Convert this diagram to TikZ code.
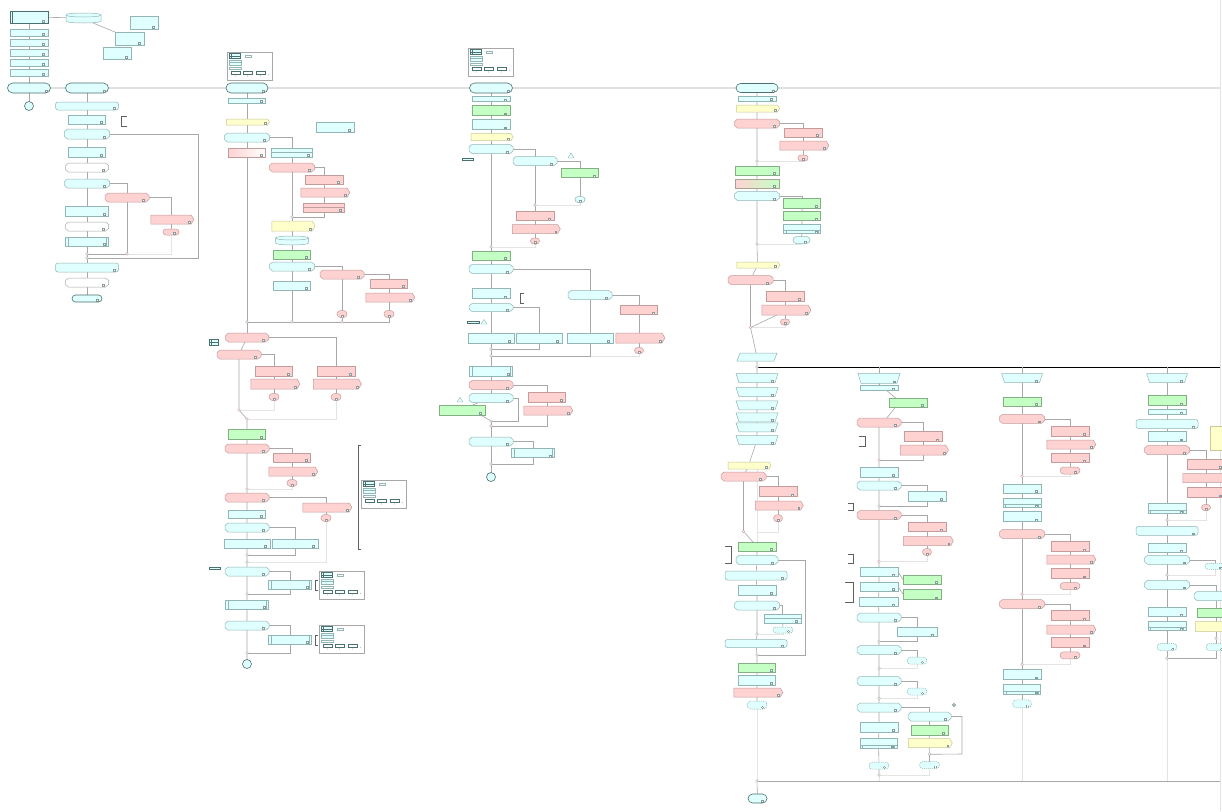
\documentclass[tikz,border=0pt]{standalone}
\usetikzlibrary{shapes.misc,shapes.symbols,calc}
\definecolor{cyF}{HTML}{E0FFFF}
\definecolor{cyD}{HTML}{93B5B5}
\definecolor{tD}{HTML}{4A7070}
\definecolor{pkF}{HTML}{FFD2D2}
\definecolor{pkD}{HTML}{C49C9C}
\definecolor{grF}{HTML}{C4FFC4}
\definecolor{grD}{HTML}{86AE86}
\definecolor{ywF}{HTML}{FFFFCC}
\definecolor{ywD}{HTML}{C8C898}
\definecolor{whD}{HTML}{A8A8A8}
\definecolor{lnC}{HTML}{A8A8A8}
\definecolor{ltC}{HTML}{E4E4E4}
\definecolor{portC}{HTML}{8A9A9A}
\definecolor{brkC}{HTML}{606060}
\pgfdeclarelayer{bg}
\pgfsetlayers{bg,main}
\newcommand\portsq{\draw[draw=portC,fill=white,line width=0.3pt,sharp corners] ([xshift=-5.5pt,yshift=0.8pt]path picture bounding box.south east) rectangle ++(1.8pt,1.8pt);}
\tikzset{
 bs/.style={inner sep=0pt, outer sep=0pt, line width=0.5pt},
 port/.style={path picture={\portsq}},
 box/.style={bs, rectangle, port},
 pent/.style={bs, signal, signal to=east, signal pointer angle=120, port},
 term/.style={bs, rounded rectangle, fill=cyF, draw=tD, line width=0.6pt, port},
 oval/.style={bs, rounded rectangle, port},
 wide/.style={bs, rectangle, rounded corners=2.5pt, port},
 sub/.style={bs, rectangle, path picture={\portsq
   \draw[draw=cyD,line width=0.4pt] ([xshift=2.5pt]path picture bounding box.north west) -- ([xshift=2.5pt]path picture bounding box.south west) ([xshift=-2.5pt]path picture bounding box.north east) -- ([xshift=-2.5pt]path picture bounding box.south east);}},
 sub2/.style={bs, rectangle, path picture={\portsq
   \draw[draw=cyD,line width=0.4pt] ([yshift=3.5pt]path picture bounding box.south west) -- ([yshift=3.5pt]path picture bounding box.south east) ([xshift=2.5pt]path picture bounding box.south west) -- ([xshift=2.5pt,yshift=3.5pt]path picture bounding box.south west) ([xshift=-2.5pt]path picture bounding box.south east) -- ([xshift=-2.5pt,yshift=3.5pt]path picture bounding box.south east);}},
 subL/.style={bs, rectangle, path picture={\portsq
   \draw[draw=tD,line width=0.4pt] ([xshift=2pt]path picture bounding box.north west) -- ([xshift=2pt]path picture bounding box.south west);}},
 midl/.style={bs, rectangle, path picture={\portsq
   \draw[draw=#1,line width=0.5pt] (path picture bounding box.west) -- (path picture bounding box.east);}},
 midl/.default=cyD,
 cy/.style={fill=cyF, draw=cyD},
 cyT/.style={fill=cyF, draw=tD, line width=0.6pt},
 cyd/.style={fill=cyF, draw=cyD, dash pattern=on 1.2pt off 0.8pt},
 pk/.style={fill=pkF, draw=pkD},
 gr/.style={fill=grF, draw=grD},
 yw/.style={fill=ywF, draw=ywD},
 wh/.style={fill=white, draw=whD},
 gpk/.style={left color=pkF, right color=white, draw=pkD},
 gpg/.style={left color=pkF, right color=grF, draw=pkD!50!grD},
 jn/.style={circle, inner sep=0pt, outer sep=0pt, minimum size=2.8pt, draw=lnC, fill=white, line width=0.4pt},
 jpk/.style={jn, draw=pkD},
 endc/.style={circle, inner sep=0pt, outer sep=0pt, minimum size=9pt, draw=tD, fill=cyF, line width=0.6pt},
 ln/.style={draw=lnC, line width=0.6pt},
 lt/.style={draw=ltC, line width=0.5pt},
 brk/.style={draw=brkC, line width=0.7pt},
}
\newcommand\nd[6]{\node[#1,minimum width=#5pt,minimum height=#6pt] (#2) at (#3,#4) {};}
\newcommand\jnc[3]{\node[jn] (#1) at (#2,#3) {};}
\newcommand\jpkc[3]{\node[jpk] (#1) at (#2,#3) {};}
\newcommand\hx[6]{%
 \node[bs, rectangle, minimum width=#5pt, minimum height=#6pt] (#2) at (#3,#4) {};
 \draw[#1, line width=0.5pt] ([xshift=3pt]#2.north west) -- ([xshift=-3pt]#2.north east) -- ([yshift=-2.5pt]#2.north east) -- ([yshift=2.5pt]#2.south east) -- ([xshift=-3pt]#2.south east) -- ([xshift=3pt]#2.south west) -- ([yshift=2.5pt]#2.south west) -- ([yshift=-2.5pt]#2.north west) -- cycle;
 \draw[draw=portC,fill=white,line width=0.3pt] ([xshift=-6.5pt,yshift=0.8pt]#2.south east) rectangle ++(1.8pt,1.8pt);}
\newcommand\trapz[5]{%
 \node[bs, rectangle, minimum width=#4pt, minimum height=#5pt] (#1) at (#2,#3) {};
 \draw[cy, line width=0.5pt] (#1.north west) -- (#1.north east) -- ([xshift=-3pt]#1.south east) -- ([xshift=3pt]#1.south west) -- cycle;
 \draw[draw=portC,fill=white,line width=0.3pt] ([xshift=-7pt,yshift=0.8pt]#1.south east) rectangle ++(1.8pt,1.8pt);}
\newcommand\cyln[5]{%
 \node[bs, rectangle, minimum width=#4pt, minimum height=#5pt] (#1) at (#2,#3) {};
 \draw[fill=cyF, draw=cyD, line width=0.5pt] ([yshift=-2pt]#1.north west) -- ([yshift=2pt]#1.south west) .. controls ([yshift=-0.67pt]#1.south west) and ([yshift=-0.67pt]#1.south east) .. ([yshift=2pt]#1.south east) -- ([yshift=-2pt]#1.north east) .. controls ([yshift=0.67pt]#1.north east) and ([yshift=0.67pt]#1.north west) .. cycle;
 \draw[draw=cyD, line width=0.5pt] ([yshift=-2pt]#1.north west) .. controls ([yshift=-4.67pt]#1.north west) and ([yshift=-4.67pt]#1.north east) .. ([yshift=-2pt]#1.north east);}
\newcommand\lgd[3]{%
 \node[bs, rectangle, draw=whD, fill=white, minimum width=45pt, minimum height=28pt, anchor=north west] (#1) at (#2,#3) {};
 \begin{scope}[shift={(#2,#3)}]
  \draw[draw=tD, fill=cyF, line width=0.5pt] (2,1.7) rectangle (13,6);
  \draw[draw=tD, line width=0.4pt] (4,1.7) -- (4,6) (2,3.8) -- (13,3.8);
  \draw[draw=cyD, line width=0.4pt] (18,3.3) rectangle (24,4.8);
  \draw[draw=cyD, fill=cyF, line width=0.4pt] (2,7.7) rectangle (14,10.3);
  \draw[draw=cyD, fill=cyF, line width=0.4pt] (2,10.3) rectangle (14,13);
  \draw[draw=cyD, fill=white, line width=0.4pt] (2,14.7) rectangle (14,17.2);
  \foreach \u in {3.7,16,28.7}{\draw[draw=tD, line width=0.4pt] (\u,19.3) rectangle ++(9,2.4); \fill[tD] (\u+4.5,24) circle (0.4);}
  \draw[draw=gray, line width=0.3pt] (41,22) -- (42,23);
 \end{scope}}
\begin{document}
\begin{tikzpicture}[x=1pt,y=-1pt]
\useasboundingbox (0,0) rectangle (1222,811);
\coordinate (rb1) at (1220.5,0);
\coordinate (rb2) at (1220.5,811);
% ---------------- section 1
\nd{subL,cyT}{a0}{29}{17}{38}{12}
\nd{box,cy}{a1}{29}{32.5}{38}{7}
\nd{box,cy}{a2}{29}{42.5}{38}{7}
\nd{box,cy}{a3}{29}{52.5}{38}{7}
\nd{box,cy}{a4}{29}{62.5}{38}{7}
\nd{box,cy}{a5}{29}{72.5}{38}{7}
\cyln{cyl}{83.5}{18}{35}{10}
\nd{box,cy}{b1}{144}{22.5}{28}{13}
\nd{box,cy}{b2}{129.5}{38.5}{29}{13}
\nd{box,cy}{b3}{117}{53}{28}{12}
\nd{term}{t1}{29}{88}{43}{10}
\node[endc] (c1) at (29,106) {};
\nd{term}{t2}{87}{88}{43}{10}
\coordinate (mE) at (1220,88);
\nd{wide,cy}{r1}{87}{106}{63}{8}
\nd{box,cy}{r2}{87}{119.5}{37}{9}
\draw[brk] (127,116) -- (121,116) -- (121,126) -- (127,126);
\hx{cy}{h1}{87}{134}{45}{10}
\nd{box,cy}{r3}{87}{152}{37}{10}
\hx{wh}{h2}{87}{167.5}{43}{9}
\hx{cy}{h3}{87}{183.5}{45}{9}
\hx{pk}{h4}{127}{197.5}{44}{9}
\nd{pent,pk}{p1}{171}{219.5}{43}{9}
\nd{oval,pk}{o1}{171}{232}{16}{6}
\nd{box,cy}{r4}{87}{211}{43}{10}
\hx{wh}{h5}{87}{226.5}{43}{9}
\nd{sub,cy}{s1}{87}{241.5}{43}{9}
\jnc{j1}{87}{254}
\jpkc{jp1}{127}{254}
\jnc{j2}{87}{258}
\coordinate (k1) at (198,258);
\nd{wide,cy}{r5}{87}{267.5}{63}{9}
\hx{wh}{h6}{87}{282.5}{43}{9}
\nd{term}{t6}{87}{298.5}{30}{7}
% ---------------- section 2
\lgd{L1}{227}{52}
\nd{term}{t3}{247}{88}{42}{10}
\nd{box,cy}{r6}{247}{100.5}{37}{5}
\nd{pent,yw}{y1}{247}{122}{43}{6}
\nd{box,cy}{r7}{335}{127}{38}{10}
\hx{cy}{h7}{247}{137.5}{45}{9}
\nd{box,gpk}{g1}{247}{152.5}{37}{9}
\nd{midl,cy}{m1}{292}{152.5}{41}{9}
\hx{pk}{h8}{292}{167.5}{45}{9}
\nd{box,pk}{pr1}{324}{179.5}{38}{9}
\nd{pent,pk}{pp1}{324}{192.5}{49}{9}
\nd{midl=pkD,pk}{pm1}{324}{207.5}{41}{9}
\jnc{j3}{292}{217}
\nd{pent,yw}{y2}{292}{226}{43}{10}
\cyln{cy2}{292}{240.5}{33}{9}
\nd{box,gr}{g2}{292}{254.5}{37}{9}
\hx{cy}{h9}{292}{266.5}{45}{9}
\nd{box,cy}{r8}{292}{285.5}{37}{9}
\hx{pk}{h10}{342}{274.5}{44}{9}
\nd{oval,pk}{o2}{342}{314}{10}{7}
\nd{box,pk}{pr2}{389}{283.5}{37}{9}
\nd{pent,pk}{pp2}{389}{297.5}{49}{9}
\nd{oval,pk}{o3}{389}{314}{10}{7}
\jnc{j4}{247}{322}
\jnc{j5}{292}{322}
\jpkc{j6}{342}{322}
% ---------------- section 3
\hx{pk}{h11}{247}{337.5}{43}{9}
\draw[draw=tD, fill=cyF, line width=0.4pt] (209,339) rectangle (218,345);
\draw[draw=tD, line width=0.4pt] (211,339) -- (211,345) (209,342) -- (218,342);
\hx{pk}{h12}{239}{354.5}{44}{9}
\nd{box,pk}{pr3}{274}{371}{37}{10}
\nd{pent,pk}{pp3}{274}{384}{49}{10}
\nd{oval,pk}{o4}{274}{397}{10}{7}
\nd{box,pk}{pr4}{336}{371}{38}{10}
\nd{pent,pk}{pp4}{336}{384}{48}{10}
\nd{oval,pk}{o5}{336}{397}{10}{7}
\jpkc{j7}{239}{410}
\jpkc{j8}{247}{419}
\nd{box,gr}{g3}{247}{434}{37}{10}
\hx{pk}{h13}{247}{448.5}{44}{9}
\nd{box,pk}{pr5}{292}{457.5}{37}{9}
\nd{pent,pk}{pp5}{292}{471.5}{49}{9}
\nd{oval,pk}{o6}{292}{483}{10}{7}
\jpkc{j9}{247}{489}
\hx{pk}{h14}{247}{497.5}{44}{9}
\nd{pent,pk}{pp6}{326}{507.5}{49}{9}
\nd{oval,pk}{o7}{326}{518}{10}{7}
\nd{box,cy}{r9}{247}{514}{37}{8}
\hx{cy}{h15}{247}{527.5}{44}{9}
\nd{box,cy}{r10}{247}{543.5}{46}{9}
\nd{box,cy}{r11}{295}{543.5}{46}{9}
\jnc{j10}{247}{555}
\jnc{j11}{247}{562}
\draw[brk] (360.5,445) -- (358,445) -- (358,549) -- (360.5,549);
\lgd{L2}{361}{480}
\draw[draw=tD, fill=cyF, line width=0.4pt] (209,567) rectangle (220,569.5);
\hx{cy}{h16}{247}{571.5}{44}{9}
\nd{sub,cy}{s2}{290}{584.5}{43}{9}
\draw[brk] (318,580) -- (315.5,580) -- (315.5,590) -- (318,590);
\lgd{L3}{319}{571}
\jnc{j12}{247}{594}
\nd{sub,cy}{s3}{247}{604.5}{43}{9}
\hx{cy}{h17}{247}{625.5}{44}{9}
\nd{sub,cy}{s4}{290}{639.5}{43}{9}
\draw[brk] (318,635) -- (315.5,635) -- (315.5,645) -- (318,645);
\lgd{L4}{319}{625}
\jnc{j13}{247}{653}
\node[endc] (c2) at (247,664) {};
% ---------------- section 4
\lgd{L5}{468}{48}
\nd{term}{t4}{491}{88}{43}{10}
\nd{box,cy}{r12}{491}{99}{38}{5}
\nd{box,gr}{g4}{491}{110.3}{38}{10}
\nd{box,cy}{r13}{491}{124.3}{38}{10}
\nd{pent,yw}{y3}{491}{137}{42}{7}
\hx{cy}{h18}{491}{149}{44}{9}
\draw[draw=tD, fill=cyF, line width=0.4pt] (462,158) rectangle (473,160.5);
\hx{cy}{h19}{535}{161}{44}{9}
\draw[draw=cyD, fill=cyF, line width=0.4pt] (571,153) -- (574,158) -- (568,158) -- cycle;
\nd{box,gr}{g5}{580}{173}{37}{9}
\nd{oval,cy}{o8}{580}{199.5}{10}{6}
\jnc{j14}{535}{205}
\nd{box,pk}{pr6}{535}{216}{38}{9}
\nd{pent,pk}{pp7}{535}{229}{48}{9}
\nd{oval,pk}{o9}{535}{241}{9}{6}
\jnc{j15}{491}{247}
\nd{box,gr}{g6}{491}{255.5}{38}{9}
\hx{cy}{h20}{491}{269}{44}{9}
\nd{box,cy}{r14}{491}{293.5}{38}{10}
\draw[brk] (524,293) -- (520.5,293) -- (520.5,303) -- (524,303);
\hx{cy}{h22}{491}{307.5}{44}{8}
\hx{cy}{h21}{590}{295}{44}{9}
\nd{box,pk}{pr7}{639}{310}{37}{9}
\draw[draw=tD, fill=cyF, line width=0.4pt] (467,321) rectangle (479,323.5);
\draw[draw=cyD, fill=cyF, line width=0.4pt] (484,319.5) -- (487,324) -- (481,324) -- cycle;
\nd{box,cy}{r15}{491}{338}{46}{10}
\nd{box,cy}{r16}{539}{338}{46}{10}
\nd{box,cy}{r17}{590}{338}{46}{10}
\nd{pent,pk}{pp8}{639}{338}{49}{10}
\nd{oval,pk}{o10}{639}{350.5}{9}{6}
\jnc{j16}{491}{349}
\jnc{j17}{491}{356}
\nd{sub,cy}{s5}{491}{371}{43}{10}
\hx{pk}{h23}{491}{385}{44}{9}
\hx{cy}{h24}{491}{398}{44}{9}
\nd{box,pk}{pr8}{547}{397}{37}{10}
\nd{pent,pk}{pp9}{547}{410.5}{49}{9}
\draw[draw=cyD, fill=cyF, line width=0.4pt] (460,397.5) -- (463,402) -- (457,402) -- cycle;
\nd{box,gr}{g7}{462}{410}{46}{10}
\coordinate (k2) at (518,421);
\jnc{j18}{491}{421}
\jpkc{j19}{491}{426}
\hx{cy}{h25}{491}{441.5}{44}{9}
\nd{sub,cy}{s6}{533}{453}{43}{9}
\jnc{j20}{491}{464}
\node[endc] (c3) at (491,477) {};
% ---------------- section 5
\nd{term}{t5}{757}{88}{42}{9}
\nd{box,cy}{r18}{757}{98.5}{38}{5}
\nd{pent,yw}{y4}{757}{108.5}{43}{7}
\hx{pk}{h26}{757}{123.5}{45}{9}
\nd{box,pk}{pr9}{803}{132.5}{38}{9}
\nd{pent,pk}{pp10}{803}{145.5}{49}{9}
\nd{oval,pk}{o11}{803}{158}{10}{6}
\jnc{j21}{757}{161}
\nd{box,gr}{g8}{757}{170.5}{44}{9}
\nd{box,gpg}{g9}{757}{183.5}{44}{9}
\hx{cy}{h27}{757}{196}{45}{9}
\nd{box,gr}{g10}{802}{203}{37}{10}
\nd{box,gr}{g11}{802}{216}{37}{9}
\nd{sub2,cy}{m2}{802}{229}{37}{9}
\nd{oval,cy}{o12}{801.5}{240}{17}{7}
\jnc{j22}{757}{244}
\nd{pent,yw}{y5}{757.5}{265}{43}{6}
\hx{pk}{h28}{750.5}{280}{45}{9}
\nd{box,pk}{pr10}{785}{296}{38}{10}
\nd{pent,pk}{pp11}{785}{310}{49}{10}
\nd{oval,pk}{o13}{785}{322}{9}{6}
\jpkc{j23}{750.5}{327.5}
\node[bs, rectangle, minimum width=40pt, minimum height=8pt] (pl1) at (757,357) {};
\draw[cy, line width=0.5pt] ([xshift=3pt]pl1.north west) -- (pl1.north east) -- ([xshift=-3pt]pl1.south east) -- (pl1.south west) -- cycle;
\jnc{j24}{757}{367}
\coordinate (kE) at (1220,367);
\trapz{tz1}{757}{378}{42}{9}
\trapz{tz2}{757}{392}{42}{9}
\trapz{tz3}{757}{405.3}{42}{9}
\trapz{tz4}{757}{417.3}{42}{9}
\trapz{tz5}{757}{427.3}{42}{9}
\trapz{tz6}{757}{440}{42}{9}
\nd{pent,yw}{y6}{748.5}{465.5}{43}{7}
\hx{pk}{h29}{743.5}{476.5}{45}{9}
\nd{box,pk}{pr11}{778}{491.5}{38}{10}
\nd{pent,pk}{pp12}{778}{505.5}{48}{9}
\nd{oval,pk}{o14}{778}{518.3}{9}{7}
\jpkc{j25}{743.5}{531.5}
\coordinate (k3) at (757,532);
\coordinate (k4) at (757,469);
\draw[brk] (725,546) -- (731,546) -- (731,563) -- (725,563);
\nd{box,gr}{g12}{757}{546.5}{38}{9}
\hx{cy}{h30}{757}{560}{42}{9}
\coordinate (k5) at (805,655);
\nd{wide,cy}{w1}{756}{575.5}{62}{9}
\nd{box,cy}{r19}{757}{590}{38}{10}
\hx{cy}{h31}{757}{605.5}{45}{9}
\nd{midl,cy}{m3}{782.5}{618.5}{37}{9}
\nd{oval,cyd}{o15}{783}{630}{20}{6}
\jnc{j26}{757}{634}
\nd{wide,cy}{w2}{756}{643.5}{62}{8}
\jnc{j27}{757}{655}
\nd{box,gr}{g13}{757}{667.5}{37}{9}
\nd{box,cy}{r20}{757}{680}{37}{10}
\nd{pent,pk}{pp13}{757}{692.5}{49}{9}
\nd{oval,cyd}{o16}{757}{705}{20}{8}
\jnc{j28}{757}{781}
\coordinate (kB) at (1220,781);
\nd{term}{t7}{757.5}{798.5}{19}{9}
% ---------------- section 7
\coordinate (q5) at (879,367);
\trapz{tz7}{879}{378.3}{42}{10}
\nd{box,cy}{r21}{879}{387.8}{38}{5.7}
\nd{box,gr}{g14}{908}{402.5}{38}{9}
\hx{pk}{h32}{879}{422.5}{44}{9}
\draw[brk] (859,436) -- (865,436) -- (865,446) -- (859,446);
\nd{box,pk}{pr12}{923}{436.5}{38}{10}
\nd{pent,pk}{pp14}{923}{450}{48}{10}
\jpkc{j29}{879}{460}
\nd{box,cy}{r22}{879}{472}{38}{10}
\hx{cy}{h33}{879}{485.5}{44}{9}
\nd{box,cy}{r23}{927}{496}{38}{10}
\draw[brk] (848,503) -- (853,503) -- (853,510) -- (848,510);
\jnc{j30}{879}{506}
\hx{pk}{h34}{879}{515}{44}{9}
\nd{box,pk}{pr13}{927}{527}{38}{9}
\nd{pent,pk}{pp15}{927}{541}{50}{9}
\nd{oval,pk}{o17}{927}{552}{9}{7}
\jpkc{j31}{879}{561.5}
\draw[brk] (848,554) -- (853,554) -- (853,563) -- (848,563);
\nd{box,cy}{r24}{879}{572}{38}{9}
\nd{box,gr}{g15}{922}{579.5}{38}{9}
\nd{box,cy}{r25}{879}{586.5}{38}{9}
\nd{box,gr}{g16}{922}{594.3}{38}{10}
\nd{box,cy}{r26}{878.5}{602}{39}{9}
\draw[brk] (845,582) -- (853,582) -- (853,602) -- (845,602);
\hx{cy}{h35}{879}{617.5}{44}{9}
\nd{box,cy}{r27}{917}{632}{40}{9}
\jnc{j32}{879}{641.5}
\hx{cy}{h36}{879}{650}{44}{9}
\nd{oval,cyd}{o18}{917}{660.7}{20}{7}
\jnc{j33}{879}{668.3}
\hx{cy}{h37}{879}{681}{44}{9}
\nd{oval,cyd}{o19}{917}{691.5}{20}{7}
\jnc{j34}{879}{698.3}
\draw[draw=tD, line width=0.4pt] (954,705) circle (1.5);
\hx{cy}{h38}{879}{707.5}{44}{9}
\hx{cy}{h39}{929.5}{716.5}{43}{9}
\coordinate (k6) at (962,754);
\nd{box,gr}{g17}{929.5}{730}{37}{10}
\nd{pent,yw}{y7}{929}{743}{44}{9}
\jnc{j35}{929.5}{754.3}
\nd{oval,cyd}{o20}{929.5}{765}{20}{7}
\nd{box,cy}{r28}{879}{727}{38}{10}
\nd{sub2,cy}{s7}{878.5}{743.3}{37}{10}
\nd{oval,cyd}{o21}{879}{765.7}{20}{7}
\jnc{j36}{879}{775}
\coordinate (q5b) at (879,781);
% ---------------- section 8
\coordinate (q6) at (1022,367);
\trapz{tz8}{1022}{378}{41}{9}
\nd{box,gr}{g18}{1022}{401.3}{38}{9}
\hx{pk}{h40}{1022}{418.8}{45}{9}
\nd{box,pk}{pr14}{1070}{431}{38}{10}
\nd{pent,pk}{pp16}{1070}{444.5}{49}{9}
\nd{box,pk}{pr15}{1070}{458}{38}{9}
\nd{oval,pk}{o22}{1070}{470.5}{20}{7}
\jpkc{j37}{1022}{476.3}
\nd{box,cy}{r29}{1022}{488.3}{38}{9}
\nd{sub2,cy}{s8}{1022}{503}{38}{9}
\nd{box,cy}{r30}{1022}{516.7}{38}{10}
\hx{pk}{h41}{1022}{534}{45}{9}
\nd{box,pk}{pr16}{1070}{546.7}{38}{10}
\nd{pent,pk}{pp17}{1070}{559.5}{49}{9}
\nd{box,pk}{pr17}{1070}{573.3}{38}{10}
\nd{oval,pk}{o23}{1070}{586}{20}{7}
\jpkc{j38}{1022}{594.3}
\hx{pk}{h42}{1022}{604}{45}{9}
\nd{box,pk}{pr18}{1070}{615.5}{38}{10}
\nd{pent,pk}{pp18}{1070}{629.5}{49}{9}
\nd{box,pk}{pr19}{1070}{642.3}{38}{10}
\nd{oval,pk}{o24}{1070}{655.3}{20}{7}
\jpkc{j39}{1022}{664.3}
\nd{box,cy}{r31}{1022}{674.3}{38}{10}
\nd{sub2,cy}{s9}{1022}{689.3}{37}{10}
\nd{oval,cyd}{o25}{1022}{703.8}{19}{8}
\coordinate (q6b) at (1022,781);
% ---------------- section 9
\coordinate (q7) at (1167,367);
\trapz{tz9}{1167}{378}{41}{9}
\nd{box,gr}{g19}{1167}{400.5}{38}{10}
\nd{box,cy}{r32}{1167}{412}{38}{5}
\nd{wide,cy}{w3}{1167}{424}{62}{9}
\nd{box,cy}{r33}{1167}{436.3}{38}{10}
\hx{pk}{h43}{1167}{450}{45}{9}
\nd{box,yw}{yb}{1228}{438.7}{36}{24}
\nd{box,pk}{pr20}{1206}{464}{38}{10}
\nd{pent,pk}{pp19}{1206}{478}{49}{9}
\nd{box,pk}{pr21}{1206}{492.3}{38}{10}
\nd{oval,pk}{o26}{1206}{507.5}{9}{6}
\nd{sub2,cy}{s10}{1167}{508.7}{38}{10}
\jpkc{j40}{1167}{520}
\nd{wide,cy}{w4}{1167}{530.8}{62}{9}
\nd{box,cy}{r34}{1167}{548}{38}{9}
\hx{cy}{h44}{1167}{559.8}{45}{9}
\nd{oval,cyd}{o27}{1215}{566.3}{20}{6}
\jnc{j41}{1167}{575}
\hx{cy}{h45}{1167}{584.8}{45}{9}
\hx{cy}{h46}{1216}{596}{44}{9}
\nd{box,gr}{g20}{1216}{613}{38}{9}
\nd{pent,yw}{y8}{1216}{626.7}{44}{10}
\jnc{j43}{1216}{638.3}
\nd{oval,cyd}{o28}{1216}{647}{20}{7}
\nd{box,cy}{r35}{1167}{612}{38}{9}
\nd{sub2,cy}{s11}{1167}{626}{38}{9}
\nd{oval,cyd}{o29}{1167}{647}{20}{7}
\jnc{j42}{1167}{658.3}
\coordinate (q7b) at (1167,781);
% ================= connectors
\begin{pgfonlayer}{bg}
\fill[white] (0,0) rectangle (1222,811);
\draw[draw=ltC, line width=1pt] (rb1) -- (rb2);
% section 1
\draw[ln] (a0) -- (a1) -- (a2) -- (a3) -- (a4) -- (a5) -- (t1) -- (c1);
\draw[ln] (a0) -- (cyl);
\draw[ln] ($(cyl.south east)+(-8,0)$) -- (b2.north west);
\draw[ln] (t1) -- (t2) -- (t3) -- (t4) -- (t5) -- (mE);
\draw[ln] (t2) -- (r1) -- (r2) -- (h1) -- (r3) -- (h2) -- (h3) -- (r4) -- (h5) -- (s1) -- (j1) -- (j2) -- (r5) -- (h6) -- (t6);
\draw[ln] (h1.east) -| (k1) -- (j2);
\draw[ln] (h3.east) -| (h4.north);
\draw[lt] (o1.south) |- (jp1);
\draw[ln] (h4) -- (jp1) -- (j1);
\draw[ln] (h4.east) -| (p1.north);
\draw[ln] (p1) -- (o1);
% section 2
\draw[ln] (t3) -- (r6) -- (y1) -- (h7) -- (g1) -- (j4) -- (h11);
\draw[ln] (h7.east) -| (m1.north);
\draw[ln] (m1) -- (h8) -- (j3) -- (y2) -- (cy2) -- (g2) -- (h9) -- (r8) -- (j5);
\draw[ln] (h8.east) -| (pr1.north);
\draw[ln] (pr1) -- (pp1) -- (pm1);
\draw[ln] (pm1.south) |- (j3);
\draw[ln] (h9.east) -| (h10.north);
\draw[ln] (h10) -- (o2) -- (j6);
\draw[ln] (h10.east) -| (pr2.north);
\draw[ln] (pr2) -- (pp2) -- (o3);
\draw[ln] (o3.south) |- (j6);
\draw[ln] (j6) -- (j5) -- (j4);
% section 3
\draw[ln] (h11.east) -| (pr4.north);
\draw[ln] (pr4) -- (pp4) -- (o5);
\draw[ln] (h11) -- (h12);
\draw[lt] (o4.south) |- (j7);
\draw[lt] (o5.south) |- (j8);
\draw[lt] (o6.south) |- (j9);
\draw[lt] (o7.south) |- (j11);
\draw[ln] (h12) -- (j7) -- (j8) -- (g3) -- (h13) -- (j9) -- (h14) -- (r9) -- (h15) -- (r10) -- (j10) -- (j11) -- (h16) -- (j12) -- (s3) -- (h17) -- (j13) -- (c2);
\draw[ln] (h12.east) -| (pr3.north);
\draw[ln] (pr3) -- (pp3) -- (o4);
\draw[ln] (h13.east) -| (pr5.north);
\draw[ln] (pr5) -- (pp5) -- (o6);
\draw[ln] (h14.east) -| (pp6.north);
\draw[ln] (pp6) -- (o7);
\draw[ln] (h15.east) -| (r11.north);
\draw[ln] (r11.south) |- (j10);
\draw[ln] (h16.east) -| (s2.north);
\draw[ln] (s2.south) |- (j12);
\draw[ln] (h17.east) -| (s4.north);
\draw[ln] (s4.south) |- (j13);
% section 4
\draw[lt] (o8.south) |- (j14);
\draw[lt] (o9.south) |- (j15);
\draw[lt] (o10.south) |- (j17);
\draw[ln] (t4) -- (r12) -- (g4) -- (r13) -- (y3) -- (h18) -- (j15) -- (g6) -- (h20) -- (r14) -- (h22) -- (r15) -- (j16) -- (j17) -- (s5) -- (h23) -- (h24);
\draw[ln] (j18) -- (j19) -- (h25) -- (j20) -- (c3);
\draw[ln] (h18.east) -| (h19.north);
\draw[ln] (h19) -- (j14) -- (pr6) -- (pp7) -- (o9);
\draw[ln] (h19.east) -| (g5.north);
\draw[ln] (g5) -- (o8);
\draw[ln] (h20.east) -| (h21.north);
\draw[ln] (h21) -- (r17);
\draw[ln] (r17.south) |- (j17);
\draw[ln] (h21.east) -| (pr7.north);
\draw[ln] (pr7) -- (pp8) -- (o10);
\draw[ln] (h22.east) -| (r16.north);
\draw[ln] (r16.south) |- (j16);
\draw[ln] (h23.east) -| (pr8.north);
\draw[ln] (pr8) -- (pp9);
\draw[ln] (pp9.south) |- (j19);
\draw[ln] (h24.east) -| (k2) -- (j18);
\draw[ln] (h24.-160) -- (g7.25);
\draw[ln] (g7.-15) -- (j18);
\draw[ln] (h25.east) -| (s6.north);
\draw[ln] (s6.south) |- (j20);
% section 5
\draw[lt] (o11.south) |- (j21);
\draw[lt] (o12.south) |- (j22);
\draw[lt] (o13.south) |- (j23);
\draw[lt] (o14.south) |- (k3);
\draw[lt] (k4) -- (g12);
\draw[lt] (o15.south) |- (j26);
\draw[lt] (o16) -- (j28);
\draw[ln] (t5) -- (r18) -- (y4) -- (h26) -- (j21) -- (g8) -- (g9) -- (h27) -- (j22) -- (y5) -- (h28) -- (j23) -- (pl1) -- (j24) -- (tz1) -- (tz2) -- (tz3) -- (tz4) -- (tz5) -- (tz6) -- (y6) -- (h29) -- (j25) -- (g12) -- (h30) -- (w1) -- (r19) -- (h31) -- (j26) -- (w2) -- (j27) -- (g13) -- (r20) -- (pp13) -- (o16);
\draw[ln] (h26.east) -| (pr9.north);
\draw[ln] (pr9) -- (pp10) -- (o11);
\draw[ln] (h27.east) -| (g10.north);
\draw[ln] (g10) -- (g11) -- (m2) -- (o12);
\draw[ln] (h28.east) -| (pr10.north);
\draw[ln] (pr10) -- (pp11) -- (o13);
\draw[ln] ($(pp11.south)+(-8,0)$) -- (j23);
\draw[draw=black, line width=0.9pt] (j24) -- (kE);
\draw[ln] (h29.east) -| (pr11.north);
\draw[ln] (pr11) -- (pp12) -- (o14);
\draw[ln] (h30.east) -| (k5) -- (j27);
\draw[ln] (h31.east) -| (m3.north);
\draw[ln] (m3) -- (o15);
\draw[ln] (j28) -- (t7);
\draw[ln] (j28) -- (kB);
% section 7
\draw[lt] (o17.south) |- (j31);
\draw[lt] (o18.south) |- (j33);
\draw[lt] (o19.south) |- (j34);
\draw[lt] (o20.south) |- (j36);
\draw[lt] (j36) -- (q5b);
\draw[ln] (q5) -- (tz7) -- (r21);
\draw[ln] (r21.-20) -- (g14.160);
\draw[ln] (g14.-160) -- (h32.30);
\draw[ln] (h32) -- (j29) -- (r22) -- (h33) -- (j30) -- (h34) -- (j31) -- (r24) -- (r25) -- (r26) -- (h35) -- (j32) -- (h36) -- (j33) -- (h37) -- (j34) -- (h38) -- (r28) -- (s7) -- (o21) -- (j36);
\draw[ln] (h32.east) -| (pr12.north);
\draw[ln] (pr12) -- (pp14);
\draw[ln] (pp14.south) |- (j29);
\draw[ln] (h33.east) -| (r23.north);
\draw[ln] (r23.south) |- (j30);
\draw[ln] (h34.east) -| (pr13.north);
\draw[ln] (pr13) -- (pp15) -- (o17);
\draw[ln] (r24.east) -- (g15.west);
\draw[ln] (r25.east) -- (g16.west);
\draw[ln] (h35.east) -| (r27.north);
\draw[ln] (r27.south) |- (j32);
\draw[ln] (h36.east) -| (o18.north);
\draw[ln] (h37.east) -| (o19.north);
\draw[ln] (h38.east) -| (h39.north);
\draw[ln] (h39) -- (g17) -- (y7) -- (j35) -- (o20);
\draw[ln] (h39.east) -| (k6) -- (j35);
% section 8
\draw[lt] (o22.south) |- (j37);
\draw[lt] (o23.south) |- (j38);
\draw[lt] (o24.south) |- (j39);
\draw[lt] (o25) -- (q6b);
\draw[ln] (q6) -- (tz8) -- (g18) -- (h40) -- (j37) -- (r29) -- (s8) -- (r30) -- (h41) -- (j38) -- (h42) -- (j39) -- (r31) -- (s9) -- (o25);
\draw[ln] (h40.east) -| (pr14.north);
\draw[ln] (pr14) -- (pp16) -- (pr15) -- (o22);
\draw[ln] (h41.east) -| (pr16.north);
\draw[ln] (pr16) -- (pp17) -- (pr17) -- (o23);
\draw[ln] (h42.east) -| (pr18.north);
\draw[ln] (pr18) -- (pp18) -- (pr19) -- (o24);
% section 9
\draw[lt] (o26.south) |- (j40);
\draw[lt] (o27.south) |- (j41);
\draw[lt] (j42) -- (q7b);
\draw[ln] (q7) -- (tz9) -- (g19) -- (r32) -- (w3) -- (r33) -- (h43) -- (s10) -- (j40) -- (w4) -- (r34) -- (h44) -- (j41) -- (h45) -- (r35) -- (s11) -- (o29) -- (j42);
\draw[ln] (h43.east) -| (pr20.north);
\draw[ln] (pr20) -- (pp19) -- (pr21) -- (o26);
\draw[ln] (h44.east) -| (o27.north);
\draw[ln] (h45.east) -| (h46.north);
\draw[ln] (h46) -- (g20) -- (y8) -- (j43) -- (o28);
\draw[ln] (o28.south) |- (j42);
\end{pgfonlayer}
\end{tikzpicture}
\end{document}
